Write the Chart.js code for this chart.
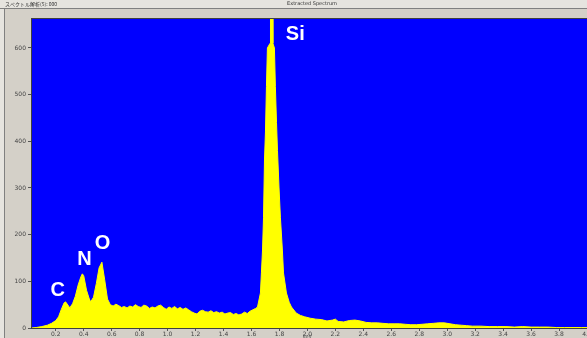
<!DOCTYPE html>
<html>
<head>
<meta charset="utf-8">
<script src="https://cdn.jsdelivr.net/npm/chart.js@4.4.1/dist/chart.umd.min.js"></script>
<style>
  html, body { margin: 0; padding: 0; background: #d4d0c8; }
  #wrap { width: 587px; height: 338px; }
</style>
</head>
<body>
<div id="wrap"><canvas id="spectrum" width="587" height="338"></canvas></div>
<script>
// energy (keV) and counts
const energy = [
  0.02, 0.06, 0.10, 0.14, 0.17, 0.20, 0.22, 0.24, 0.26, 0.27,
  0.29, 0.30, 0.32, 0.34, 0.36, 0.38, 0.39, 0.40, 0.42, 0.44,
  0.45, 0.47, 0.49, 0.51, 0.53, 0.55, 0.57, 0.59, 0.61, 0.63,
  0.65, 0.67, 0.69, 0.71, 0.73, 0.75, 0.77, 0.79, 0.81, 0.83,
  0.85, 0.87, 0.89, 0.91, 0.93, 0.95, 0.97, 0.99, 1.01, 1.03,
  1.05, 1.07, 1.09, 1.11, 1.13, 1.15, 1.17, 1.19, 1.21, 1.23,
  1.25, 1.27, 1.29, 1.31, 1.33, 1.35, 1.37, 1.39, 1.41, 1.43,
  1.45, 1.47, 1.49, 1.51, 1.53, 1.55, 1.57, 1.59, 1.61, 1.63,
  1.643, 1.664, 1.671, 1.679, 1.686, 1.693, 1.700, 1.707, 1.714, 1.733,
  1.736, 1.750, 1.753, 1.764, 1.771, 1.779, 1.786, 1.797, 1.807, 1.821,
  1.829, 1.85, 1.87, 1.886, 1.92, 1.95, 1.98, 2.02, 2.06, 2.10,
  2.14, 2.18, 2.20, 2.22, 2.26, 2.30, 2.34, 2.38, 2.42, 2.46,
  2.50, 2.54, 2.58, 2.62, 2.66, 2.70, 2.74, 2.78, 2.82, 2.86,
  2.90, 2.94, 2.98, 3.02, 3.06, 3.10, 3.14, 3.18, 3.24, 3.30,
  3.36, 3.42, 3.48, 3.54, 3.60, 3.66, 3.72, 3.78, 3.84, 3.90,
  3.96, 4.00
];
const counts = [
  0, 1, 3, 6, 10, 16, 24, 40, 54, 56,
  48, 43, 52, 68, 92, 110, 116, 112, 81, 62,
  56, 66, 95, 129, 141, 103, 62, 50, 47, 51,
  48, 44, 46, 43, 47, 45, 50, 46, 44, 49,
  47, 42, 45, 43, 47, 49, 44, 40, 45, 42,
  46, 41, 44, 40, 43, 39, 35, 32, 30, 36,
  38, 35, 34, 37, 33, 35, 32, 34, 30, 32,
  33, 29, 31, 28, 30, 34, 31, 36, 39, 42,
  45, 75, 118, 167, 236, 360, 420, 517, 600, 610,
  720, 720, 610, 600, 517, 440, 380, 300, 236, 167,
  118, 75, 55, 45, 32, 27, 24, 21, 19, 18,
  15, 17, 19, 14, 13, 16, 17, 15, 12, 11,
  11, 10, 9, 9, 9, 8, 7, 7, 8, 9,
  10, 11, 11, 9, 7, 6, 5, 4, 4, 3,
  3, 3, 2, 3, 2, 2, 2, 1, 1, 1,
  1, 1
];
const xTicks = [0.2, 0.4, 0.6, 0.8, 1.0, 1.2, 1.4, 1.6, 1.8, 2.0, 2.2, 2.4, 2.6, 2.8, 3.0, 3.2, 3.4, 3.6, 3.8, 4.0];
const yTicks = [0, 100, 200, 300, 400, 500, 600];
const elements = ["C", "N", "O", "Si"];
const headerLeft = "スペクトル解析(5): 000";
const headerTitle = "Extracted Spectrum";

// window frame, blue plot background and element labels
const framePlugin = {
  id: "frame",
  beforeDraw(chart) {
    const { ctx, chartArea: a } = chart;
    ctx.save();
    ctx.fillStyle = "#d4d0c8";
    ctx.fillRect(0, 0, chart.width, chart.height);
    ctx.fillStyle = "#e6e4df";
    ctx.fillRect(0, 0, chart.width, 8);
    ctx.fillRect(0, 8, 4, chart.height);
    ctx.fillStyle = "#808080";
    ctx.fillRect(0, 8, chart.width, 1);
    ctx.fillRect(4, 9, 1, chart.height);
    ctx.fillStyle = "#333";
    ctx.font = "5px 'Noto Sans CJK JP'";
    ctx.textBaseline = "middle";
    ctx.fillText(headerLeft, 5, 4);
    ctx.font = "5px 'DejaVu Sans'";
    ctx.textAlign = "center";
    ctx.fillText(headerTitle, 312, 4);
    ctx.fillStyle = "#0000ff";
    ctx.fillRect(a.left, a.top, a.right - a.left, a.bottom - a.top);
    ctx.restore();
  },
  afterDraw(chart) {
    const { ctx, chartArea: a } = chart;
    const x = chart.scales.x, y = chart.scales.y;
    ctx.save();
    ctx.strokeStyle = "#404040";
    ctx.lineWidth = 1;
    ctx.strokeRect(a.left - 0.5, a.top - 0.5, a.right - a.left + 1, a.bottom - a.top + 1);
    ctx.fillStyle = "#ffffff";
    ctx.font = "bold 20px 'Liberation Sans'";
    ctx.textAlign = "center";
    ctx.textBaseline = "middle";
    const spots = [[0.214, 80], [0.405, 147], [0.534, 180], [1.913, 628]];
    elements.forEach((t, i) => {
      ctx.fillText(t, x.getPixelForValue(spots[i][0]), y.getPixelForValue(spots[i][1]));
    });
    ctx.fillStyle = "#555";
    ctx.font = "5px 'DejaVu Sans'";
    ctx.fillText("keV", x.getPixelForValue(2.0), 337);
    ctx.restore();
  }
};

new Chart(document.getElementById("spectrum"), {
  type: "line",
  data: {
    datasets: [{
      data: energy.map((e, i) => ({ x: e, y: counts[i] })),
      fill: "origin",
      backgroundColor: "#ffff00",
      borderColor: "#ffff00",
      borderWidth: 1,
      pointRadius: 0,
      tension: 0
    }]
  },
  options: {
    responsive: false,
    animation: false,
    layout: { padding: { top: 19, left: 0, right: 0, bottom: 0 } },
    plugins: { legend: { display: false }, tooltip: { enabled: false } },
    scales: {
      x: {
        type: "linear",
        min: 0.03,
        max: 4.0,
        afterBuildTicks: (s) => { s.ticks = xTicks.map((v) => ({ value: v })); },
        afterFit: (s) => {
          s.height = 10;
          s.paddingLeft = 0;
          s.paddingRight = 0;
        },
        grid: { drawOnChartArea: false, tickLength: 3, color: "#555" },
        border: { display: false },
        ticks: {
          autoSkip: false,
          maxRotation: 0,
          padding: 0,
          color: "#444",
          font: { family: "DejaVu Sans", size: 6 },
          callback: (v) => v.toFixed(1)
        }
      },
      y: {
        min: 0,
        max: 662,
        afterBuildTicks: (s) => { s.ticks = yTicks.map((v) => ({ value: v })); },
        afterFit: (s) => {
          s.width = 32;
          s.paddingTop = 0;
          s.paddingBottom = 0;
        },
        grid: { drawOnChartArea: false, tickLength: 4, color: "#555" },
        border: { display: false },
        ticks: {
          padding: 2,
          color: "#444",
          font: { family: "DejaVu Sans", size: 6 }
        }
      }
    }
  },
  plugins: [framePlugin]
});
</script>
</body>
</html>
